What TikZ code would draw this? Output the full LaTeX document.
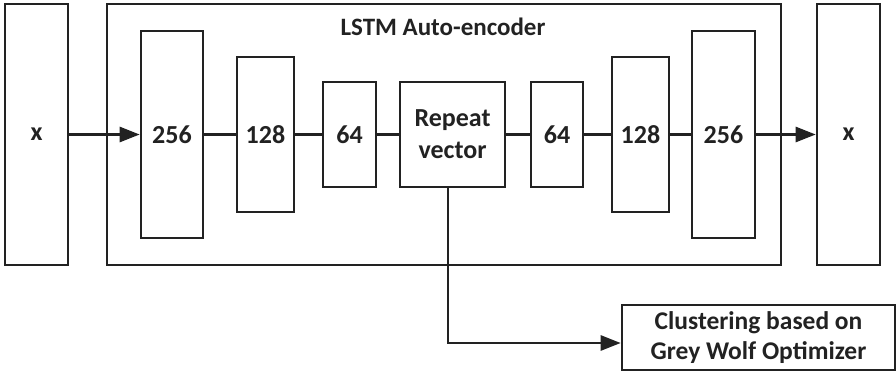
\documentclass[tikz,border=0pt]{standalone}
\usepackage{fontspec}
\setmainfont{Carlito}
\usetikzlibrary{arrows.meta}
\definecolor{ink}{HTML}{222222}
\tikzset{
  box/.style={draw=ink, line width=2.6pt, rectangle, inner sep=0pt, text=ink,
    font=\fontsize{26}{32}\selectfont\bfseries, align=center},
  conn/.style={draw=ink, line width=2.6pt},
  arr/.style={conn, -{Triangle[length=20pt,width=15pt]}},
}
\begin{document}
\begin{tikzpicture}[x=1pt,y=-1pt]
\useasboundingbox (0,0) rectangle (896,372);
\node[box, minimum width=674, minimum height=261] (big) at (444,134.5) {};
\node[text=ink, font=\fontsize{25}{30}\selectfont\bfseries] (title) at (443,27) {LSTM Auto-encoder};
\node[box, minimum width=63, minimum height=261] (xin) at (36.5,134.5) {x};
\node[box, minimum width=62, minimum height=207] (e256) at (172,134.5) {256};
\node[box, minimum width=57, minimum height=155] (e128) at (265.5,134.5) {128};
\node[box, minimum width=53, minimum height=105] (e64) at (349.5,134.5) {64};
\node[box, minimum width=105, minimum height=105] (rep) at (452.5,134.5) {Repeat\\vector};
\node[box, minimum width=52, minimum height=105] (d64) at (557,134.5) {64};
\node[box, minimum width=57, minimum height=155] (d128) at (640.5,134.5) {128};
\node[box, minimum width=63, minimum height=207] (d256) at (723.5,134.5) {256};
\node[box, minimum width=63, minimum height=261] (xout) at (848.5,134.5) {x};
\node[box, minimum width=273, minimum height=65, font=\fontsize{25.5}{30}\selectfont\bfseries] (clu) at (758.5,337.5) {Clustering based on\\Grey Wolf Optimizer};
\draw[arr] (xin) -- (e256);
\draw[conn] (e256) -- (e128);
\draw[conn] (e128) -- (e64);
\draw[conn] (e64) -- (rep);
\draw[conn] (rep) -- (d64);
\draw[conn] (d64) -- (d128);
\draw[conn] (d128) -- (d256);
\draw[arr] (d256) -- (xout);
\draw[arr] ([xshift=-4.5pt]rep.south) |- ([yshift=-5.5pt]clu.west);
\end{tikzpicture}
\end{document}
